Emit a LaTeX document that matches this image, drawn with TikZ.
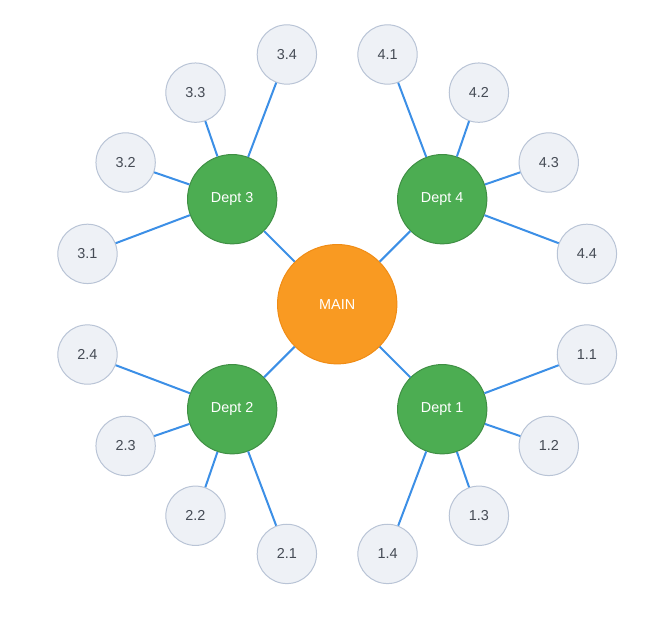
\documentclass[tikz,border=0pt]{standalone}
\usepackage{fontspec}
\setmainfont{Liberation Sans}
\usetikzlibrary{calc}

\definecolor{linkblue}{HTML}{3C8FE6}
\definecolor{leaffill}{HTML}{EEF1F6}
\definecolor{leafline}{HTML}{B9C4D6}
\definecolor{leaftext}{HTML}{454B55}
\definecolor{deptgreen}{HTML}{4CAD52}
\definecolor{deptline}{HTML}{3F8F44}
\definecolor{mainorange}{HTML}{F99A22}
\definecolor{mainline}{HTML}{F08C15}

\tikzset{
  mainnode/.style={circle, fill=mainorange, draw=mainline, line width=0.75pt,
    minimum size=89.5pt, inner sep=0pt, text=white,
    font=\fontsize{10.8}{12}\selectfont},
  deptnode/.style={circle, fill=deptgreen, draw=deptline, line width=0.75pt,
    minimum size=67pt, inner sep=0pt, text=white,
    font=\fontsize{10.8}{12}\selectfont},
  leafnode/.style={circle, fill=leaffill, draw=leafline, line width=0.75pt,
    minimum size=44.5pt, inner sep=0pt, text=leaftext,
    font=\fontsize{10.8}{12}\selectfont},
  link/.style={draw=linkblue, line width=1.5pt}
}

\begin{document}
\begin{tikzpicture}[x=0.75pt, y=0.75pt]
    \useasboundingbox (-337.2, -313.8) rectangle (333.8, 304.2);
    \node [mainnode] (main) at (0, 0) {MAIN};

    \foreach \d/\a in {1/-45, 2/-135, 3/135, 4/45} {
      \node [deptnode] (dept\d) at (\a:148.5) {Dept \d};
      \draw [link] (main) -- (dept\d);
      \foreach \l/\o/\r in {1/65.7/154.7, 2/26/112.7, 3/-26/112.7, 4/-65.7/154.7} {
        \node [leafnode] (leaf\d\l) at ($(dept\d) + (\a+\o:\r)$) {\d.\l};
        \draw [link] (dept\d) -- (leaf\d\l);
      }
    }
  \end{tikzpicture}
\end{document}
